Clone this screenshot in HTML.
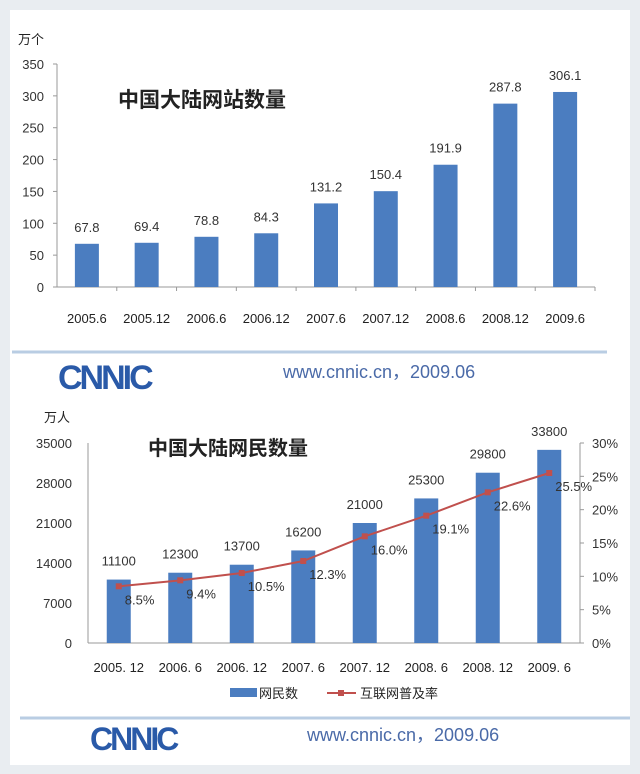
<!DOCTYPE html>
<html><head><meta charset="utf-8">
<style>
html,body{margin:0;padding:0;background:#e9edf1;}
svg{display:block;}
text{font-family:"Liberation Sans","Noto Sans CJK SC",sans-serif;}
</style></head>
<body>
<svg width="640" height="774" viewBox="0 0 640 774" xmlns="http://www.w3.org/2000/svg">
<rect x="0" y="0" width="640" height="774" fill="#e9edf1"/>
<rect x="10" y="10" width="620" height="755" fill="#ffffff"/>
<g id="top"></g>
<line x1="12" y1="352" x2="607" y2="352" stroke="#b9cde3" stroke-width="3"/>
<text x="58" y="389" font-size="34" font-weight="bold" fill="#2a5aa8" font-family="Liberation Sans" letter-spacing="-3">CNNIC</text>
<text x="283" y="378" font-size="18" fill="#4a6aa8">www.cnnic.cn，2009.06</text>
<g id="bottom"></g>
<line x1="20" y1="718" x2="630" y2="718" stroke="#b9cde3" stroke-width="3"/>
<text x="90" y="750" font-size="32" font-weight="bold" fill="#2a5aa8" letter-spacing="-3">CNNIC</text>
<text x="307" y="741" font-size="18" fill="#4a6aa8">www.cnnic.cn，2009.06</text>
</svg>
<script>
const NS="http://www.w3.org/2000/svg";
const topCats=["2005.6","2005.12","2006.6","2006.12","2007.6","2007.12","2008.6","2008.12","2009.6"];
const topVals=[67.8,69.4,78.8,84.3,131.2,150.4,191.9,287.8,306.1];
const topTicks=[0,50,100,150,200,250,300,350];
const botCats=["2005.12","2006.6","2006.12","2007.6","2007.12","2008.6","2008.12","2009.6"];
const botVals=[11100,12300,13700,16200,21000,25300,29800,33800];
const botRates=[8.5,9.4,10.5,12.3,16.0,19.1,22.6,25.5];
const botTicks=[0,7000,14000,21000,28000,35000];
const rateTicks=[0,5,10,15,20,25,30];

function mk(parent,tag,attrs,txt){const e=document.createElementNS(NS,tag);for(const k in attrs)e.setAttribute(k,attrs[k]);if(txt!==undefined)e.textContent=txt;parent.appendChild(e);return e;}

// top chart
(function(){
const g=document.getElementById('top');
const x0=57,x1=595,y0=287,y1=64,max=350;
const step=(x1-x0)/topCats.length;
const Y=v=>y0-(v/max)*(y0-y1);
const X=i=>x0+step*(i+0.5);
let t=mk(g,'text',{x:18,y:44,'font-size':13,fill:'#222'},'万个');


t=mk(g,'text',{x:118,y:107,'font-size':21,'font-weight':'bold',fill:'#222'},'中国大陆网站数量');


let a=mk(g,'line',{x1:x0,y1:y1,x2:x0,y2:y0,stroke:'#999'});


a=mk(g,'line',{x1:x0,y1:y0,x2:x1,y2:y0,stroke:'#999'});


topTicks.forEach(v=>{
 const l=mk(g,'text',{x:44,y:Y(v)+5,'font-size':13,fill:'#333','text-anchor':'end'},v);
 
 
 mk(g,'line',{x1:x0-4,y1:Y(v),x2:x0,y2:Y(v),stroke:'#999'});
});
topCats.forEach((c,i)=>{
 const r=mk(g,'rect',{x:X(i)-12,y:Y(topVals[i]),width:24,height:y0-Y(topVals[i]),fill:'#4b7dc0'});
 
 
 const v=mk(g,'text',{x:X(i),y:Y(topVals[i])-12,'font-size':13,fill:'#333','text-anchor':'middle'},topVals[i].toFixed(1));
 
 
 const l=mk(g,'text',{x:X(i),y:323,'font-size':13,fill:'#222','text-anchor':'middle'},c);
 
 
 mk(g,'line',{x1:x0+step*(i+1),y1:y0,x2:x0+step*(i+1),y2:y0+4,stroke:'#999'});
});
})();

// bottom chart
(function(){
const g=document.getElementById('bottom');
const x0=88,x1=580,y0=643,y1=443,max=35000,rmax=30;
const step=(x1-x0)/botCats.length;
const Y=v=>y0-(v/max)*(y0-y1);
const YR=v=>y0-(v/rmax)*(y0-y1);
const X=i=>x0+step*(i+0.5);
let t=mk(g,'text',{x:44,y:422,'font-size':13,fill:'#222'},'万人');


t=mk(g,'text',{x:148,y:455,'font-size':20,'font-weight':'bold',fill:'#222'},'中国大陆网民数量');


let a=mk(g,'line',{x1:x0,y1:y1,x2:x0,y2:y0,stroke:'#999'});


a=mk(g,'line',{x1:x1,y1:y1,x2:x1,y2:y0,stroke:'#999'});


a=mk(g,'line',{x1:x0,y1:y0,x2:x1,y2:y0,stroke:'#999'});


botTicks.forEach(v=>{
 const l=mk(g,'text',{x:72,y:Y(v)+5,'font-size':13,fill:'#333','text-anchor':'end'},v);
 
 
});
rateTicks.forEach(v=>{
 const l=mk(g,'text',{x:592,y:YR(v)+5,'font-size':13,fill:'#333'},v+'%');
 
 
 mk(g,'line',{x1:x1,y1:YR(v),x2:x1+4,y2:YR(v),stroke:'#999'});
});
botCats.forEach((c,i)=>{
 const r=mk(g,'rect',{x:X(i)-12,y:Y(botVals[i]),width:24,height:y0-Y(botVals[i]),fill:'#4b7dc0'});
 
 
 const v=mk(g,'text',{x:X(i),y:Y(botVals[i])-14,'font-size':13,fill:'#333','text-anchor':'middle'},botVals[i]);
 
 
 const l=mk(g,'text',{x:X(i),y:672,'font-size':13,fill:'#222','text-anchor':'middle'},c.replace('.','. '));
 
 
});
const pts=botRates.map((r,i)=>X(i)+','+YR(r)).join(' ');
const pl=mk(g,'polyline',{points:pts,fill:'none',stroke:'#c0504d','stroke-width':2});


botRates.forEach((r,i)=>{
 const m=mk(g,'rect',{x:X(i)-3,y:YR(r)-3,width:6,height:6,fill:'#c0504d'});
 
 
 const l=mk(g,'text',{x:X(i)+6,y:YR(r)+18,'font-size':13,fill:'#333'},r.toFixed(1)+'%');
 
 
});
let s=mk(g,'rect',{x:230,y:688,width:27,height:9,fill:'#4b7dc0'});


s=mk(g,'text',{x:259,y:698,'font-size':13,fill:'#222'},'网民数');


s=mk(g,'line',{x1:327,y1:693,x2:356,y2:693,stroke:'#c0504d','stroke-width':2});


mk(g,'rect',{x:338,y:690,width:6,height:6,fill:'#c0504d'});
s=mk(g,'text',{x:360,y:698,'font-size':13,fill:'#222'},'互联网普及率');


})();
</script>
</body></html>
